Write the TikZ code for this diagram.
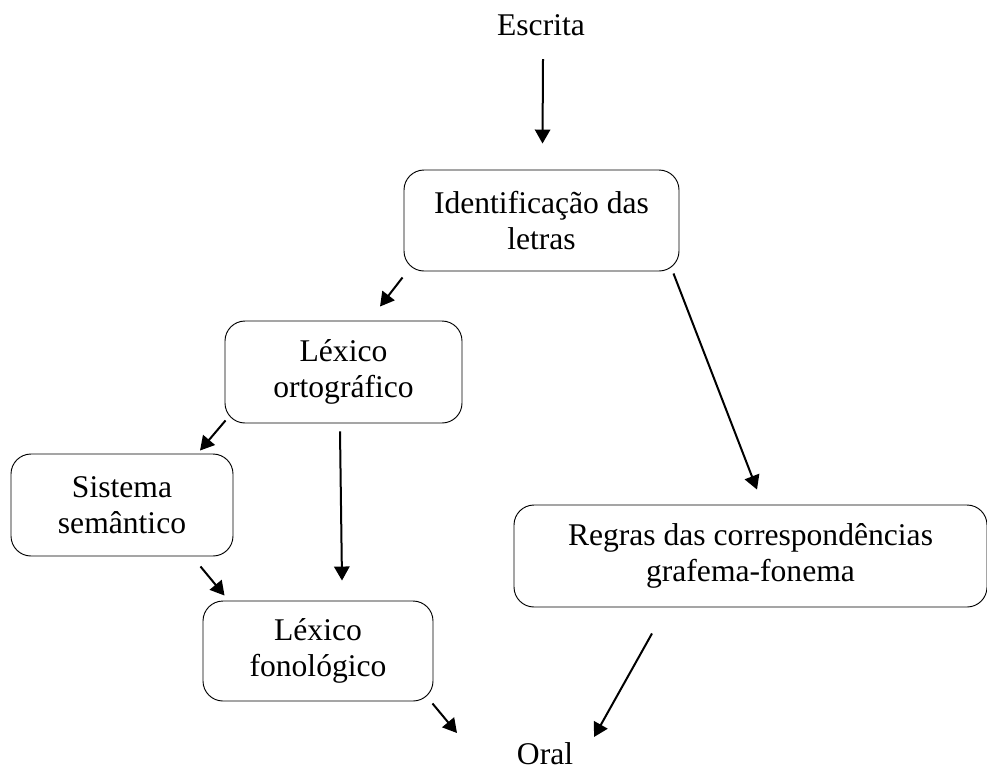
\documentclass[tikz,border=0pt]{standalone}
\usepackage{fontspec}
\setmainfont{Liberation Serif}
\usetikzlibrary{arrows.meta}

\tikzset{
    box/.style={draw, rounded corners=15pt, align=center, inner sep=0pt, line width=0.7pt,
        font=\fontsize{23.7pt}{27pt}\selectfont},
    label/.style={anchor=base, inner sep=0pt, font=\fontsize{23.7pt}{27pt}\selectfont},
    arr/.style={-{Triangle[length=10.5pt,width=11.5pt]}, line width=1.5pt}
}

\begin{document}
\begin{tikzpicture}[x=0.75pt,y=-0.75pt]
    \useasboundingbox (0,0) rectangle (987,769);

    % Input and output
    \node[label] (escrita) at (541,35) {Escrita};
    \node[label] (oral) at (545,764) {Oral};

    % Boxes
    \node[box, minimum width=206.25pt, minimum height=75.75pt] (ident) at (541.5,220.5) {Identificação das\\letras};
    \node[box, minimum width=177.75pt, minimum height=76.5pt] (lexort) at (343.5,372) {Léxico\\ortográfico};
    \node[box, minimum width=166.5pt, minimum height=76.5pt] (sist) at (122,505) {Sistema\\semântico};
    \node[box, minimum width=172.5pt, minimum height=75pt] (lexfon) at (318,651) {Léxico\\fonológico};
    \node[box, minimum width=354.75pt, minimum height=76.5pt] (regras) at (750.5,556) {Regras das correspondências\\grafema-fonema};

    % Arrows
    \draw[arr] ([shift={(2,24)}]escrita.base) -- ([shift={(1,-26)}]ident.north);
    \draw[arr] ([shift={(-1,6)}]ident.south west) -- ([shift={(36.5,-14)}]lexort.north);
    \draw[arr] ([shift={(-6,2)}]ident.south east) -- ([shift={(6.5,-15)}]regras.north);
    \draw[arr] ([shift={(1,-3)}]lexort.south west) -- ([shift={(78,-3)}]sist.north);
    \draw[arr] ([shift={(-3.5,8)}]lexort.south) -- ([shift={(24,-20)}]lexfon.north);
    \draw[arr] ([shift={(-33,10)}]sist.south east) -- ([shift={(22,-5)}]lexfon.north west);
    \draw[arr] ([shift={(-1,2)}]lexfon.south east) -- ([shift={(-88,-31)}]oral.base);
    \draw[arr] ([shift={(-98.5,26)}]regras.south) -- ([shift={(49,-27)}]oral.base);
\end{tikzpicture}
\end{document}
